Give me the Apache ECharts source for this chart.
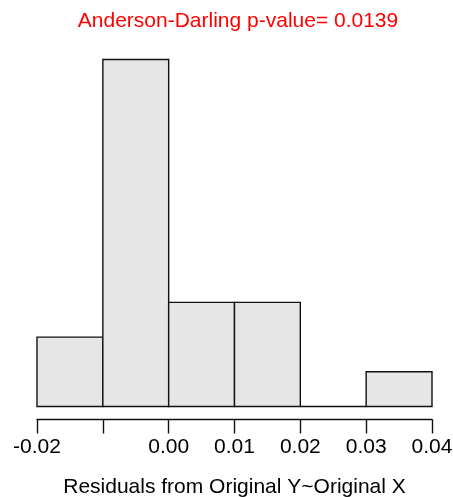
<!DOCTYPE html>
<html>
<head>
<meta charset="utf-8">
<script src="https://cdn.jsdelivr.net/npm/echarts@6/dist/echarts.min.js"></script>
<style>
  html, body { margin: 0; padding: 0; background: #fff; }
  #chart { width: 453px; height: 497px; }
</style>
</head>
<body>
<div id="chart"></div>
<script>
// Histogram of residuals: bin edges and counts per bin
const binEdges = [-0.02, -0.01, 0.00, 0.01, 0.02, 0.03, 0.04];
const binCounts = [2, 10, 3, 3, 0, 1];
const tickValues = [-0.02, -0.01, 0.00, 0.01, 0.02, 0.03, 0.04];
const tickLabels = ['-0.02', '', '0.00', '0.01', '0.02', '0.03', '0.04'];
const titleText = 'Anderson-Darling p-value= 0.0139';
const xTitle = 'Residuals from Original Y~Original X';

const FONT = '"Liberation Sans", Arial, Helvetica, sans-serif';

const bins = binCounts.map((c, i) => [binEdges[i], binEdges[i + 1], c]);

const chart = echarts.init(document.getElementById('chart'), null, { renderer: 'canvas' });

chart.setOption({
  animation: false,
  backgroundColor: '#ffffff',
  title: {
    text: titleText,
    left: 233,
    textAlign: 'center',
    top: 6,
    textStyle: { color: '#ff0000', fontFamily: FONT, fontSize: 21, fontWeight: 'normal' }
  },
  grid: { left: 37, right: 21, top: 59.5, bottom: 90.5, outerBoundsMode: 'none', containLabel: false },
  xAxis: {
    type: 'value',
    min: -0.02,
    max: 0.04,
    interval: 0.01,
    offset: 13,
    splitLine: { show: false },
    axisLine: { show: true, onZero: false, lineStyle: { color: '#111', width: 1.4 } },
    axisTick: { show: true, length: 14, lineStyle: { color: '#111', width: 1.4 } },
    axisLabel: {
      margin: 17,
      color: '#000',
      fontFamily: FONT,
      fontSize: 21,
      formatter: function (v) {
        const idx = tickValues.findIndex(t => Math.abs(t - v) < 1e-9);
        return idx >= 0 ? tickLabels[idx] : '';
      }
    },
    name: xTitle,
    nameLocation: 'middle',
    nameGap: 57,
    nameTextStyle: { color: '#000', fontFamily: FONT, fontSize: 21 }
  },
  yAxis: {
    type: 'value',
    min: 0,
    max: 10,
    show: false
  },
  series: [{
    type: 'custom',
    data: bins,
    encode: { x: [0, 1], y: 2 },
    renderItem: function (params, api) {
      const p0 = api.coord([api.value(0), 0]);
      const p1 = api.coord([api.value(1), api.value(2)]);
      return {
        type: 'rect',
        shape: { x: p0[0], y: p1[1], width: p1[0] - p0[0], height: p0[1] - p1[1] },
        style: { fill: '#e6e6e6', stroke: '#111', lineWidth: 1.4 }
      };
    }
  }]
});
</script>
</body>
</html>
